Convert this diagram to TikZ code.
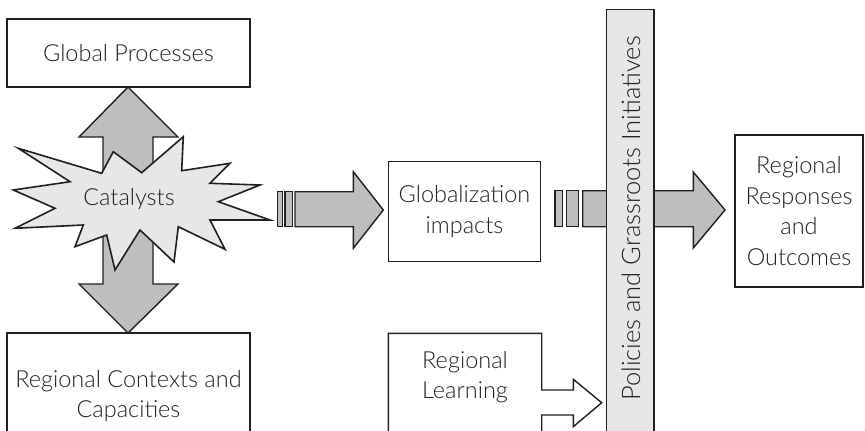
\documentclass[tikz,border=0pt]{standalone}
\usepackage{fontspec}
\IfFontExistsTF{Lato Light}{\setmainfont{Lato Light}}{\setmainfont{Lato}}
\definecolor{ink}{HTML}{231F20}
\definecolor{arrowgray}{HTML}{BCBEC0}
\definecolor{lightgray}{HTML}{E6E7E8}
\begin{document}
\begin{tikzpicture}[x=1pt,y=-1pt,
  box/.style={draw=ink,line width=1.4pt,fill=white,inner sep=0pt,align=center,text=ink,font=\fontsize{23.5}{30.5}\selectfont},
  txt/.style={inner sep=0pt,align=center,text=ink,font=\fontsize{23.5}{30.5}\selectfont},
  blockarrow/.style={draw=ink,line width=1.4pt,fill=arrowgray,line join=miter},
  openarrow/.style={draw=ink,line width=1.4pt,fill=white,line join=miter},
  burst/.style={draw=ink,line width=1.6pt,fill=lightgray,line join=miter},
  barstyle/.style={draw=ink,line width=1.4pt,fill=lightgray}]
\useasboundingbox (0,0) rectangle (865,431);
\clip (0,0) rectangle (865,431);

% boxes
\node[box,minimum width=243pt,minimum height=68pt] (gp) at (128.5,53) {Global Processes};
\node[box,minimum width=152.4pt,minimum height=100pt] (gi) at (464.5,211.7) {Globalization\\impacts};
\node[box,minimum width=128pt,minimum height=152pt] (rr) at (799,211) {Regional\\Responses\\and\\Outcomes};

% regional contexts box (cut off at bottom)
\draw[draw=ink,line width=1.4pt,fill=white] (7,445) -- (7,333) -- (250,333) -- (250,445);
\node[txt] (rc) at (128.5,396) {Regional Contexts and\\Capacities};

% vertical double arrow
\draw[blockarrow] (128,87) -- (178,137) -- (153,137) -- (153,284) -- (178,284) -- (128,333)
  -- (79,284) -- (103,284) -- (103,137) -- (79,137) -- cycle;

% starburst
\draw[burst] (18.3,148.3) -- (101.7,173.3) -- (113.3,151.7) -- (141.7,172.7) -- (183.3,136.7)
  -- (181.7,170.7) -- (230,163.3) -- (210,183.3) -- (260,185) -- (218.3,201.7) -- (270,220)
  -- (210,220) -- (225,249.3) -- (178.3,226.7) -- (174,262) -- (140,230) -- (115,270)
  -- (106.7,235) -- (75,246.7) -- (83.3,225) -- (15,228.3) -- (55,208.3) -- (13.3,190)
  -- (70,181.7) -- cycle;
\node[txt] (cat) at (129,199) {Catalysts};

% arrow 1: catalysts -> globalization
\draw[blockarrow] (277.3,191.7) rectangle (282.7,226.7);
\draw[blockarrow] (285,191.7) rectangle (292.7,226.7);
\draw[blockarrow] (295,191.7) -- (353.3,191.7) -- (353.3,171.7) -- (383.3,210) -- (353.3,248.3)
  -- (353.3,226.7) -- (295,226.7) -- cycle;

% arrow 2: globalization -> responses
\draw[blockarrow] (555,190.7) rectangle (562.7,226.7);
\draw[blockarrow] (566.7,190.7) rectangle (578.3,226.7);
\draw[blockarrow] (582.7,190.7) -- (693.3,190.7) -- (693.3,172) -- (725,210) -- (693.3,248)
  -- (693.3,226.7) -- (582.7,226.7) -- cycle;

% vertical bar
\draw[barstyle] (606.7,9.3) rectangle (654,445);
\node[txt,rotate=90,font=\fontsize{25.5}{30}\selectfont] (pol) at (631,218.5) {Policies and Grassroots Initiatives};

% regional learning box with open arrow
\draw[openarrow] (388.3,445) -- (388.3,333.3) -- (541.7,333.3) -- (541.7,390) -- (573.3,390)
  -- (573.3,379.3) -- (601.7,402.7) -- (573.3,426.7) -- (573.3,415) -- (541.7,415) -- (541.7,445);
\node[txt] (rl) at (465,377) {Regional\\Learning};
\end{tikzpicture}
\end{document}
